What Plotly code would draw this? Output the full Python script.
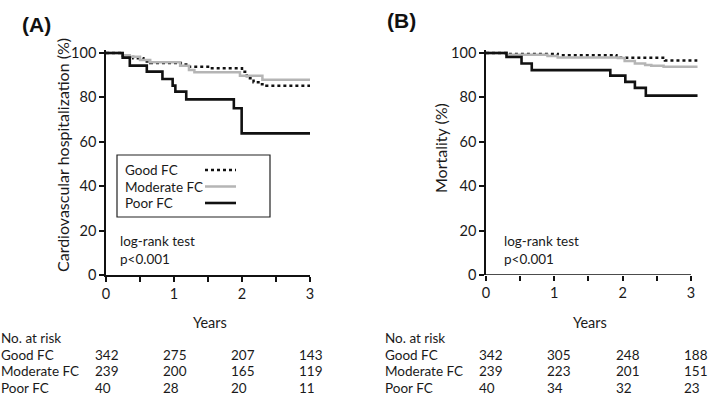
import plotly.graph_objects as go

W, H = 709, 398
FONT = "Lato"

# ---- data ----
GROUPS = ["Good FC", "Moderate FC", "Poor FC"]
RISK_YEARS = [0, 1, 2, 3]

# (A) cardiovascular hospitalization
a_good_x = [0, 0.24, 0.4, 0.55, 0.65, 1.1, 1.2, 1.5, 1.97, 2.0, 2.07, 2.17, 2.27, 2.36, 3.0]
a_good_y = [100, 99, 97.6, 96.2, 95.5, 94.8, 93.8, 93.1, 93.1, 91.6, 88.6, 86.8, 85.9, 85.3, 85.3]
a_mod_x = [0, 0.24, 0.35, 0.5, 0.65, 1.09, 1.22, 1.3, 1.97, 2.3, 3.0]
a_mod_y = [100, 99, 98.3, 96.8, 95.8, 94.3, 92.3, 91.3, 89.8, 88.0, 88.0]
a_poor_x = [0, 0.245, 0.35, 0.6, 0.83, 0.98, 1.02, 1.18, 1.88, 1.995, 3.0]
a_poor_y = [100, 97.9, 94.3, 91.6, 88.3, 85.3, 82.6, 79.1, 75.1, 63.8, 63.8]

# (B) mortality
b_good_x = [0, 0.3, 1.05, 1.91, 2.62, 3.1]
b_good_y = [100, 99.5, 99.0, 97.9, 96.6, 96.6]
b_mod_x = [0, 0.3, 0.9, 1.05, 1.93, 2.03, 2.18, 2.33, 2.42, 2.6, 3.1]
b_mod_y = [100, 99.2, 98.6, 98.0, 97.8, 96.4, 95.3, 94.6, 94.3, 93.8, 93.8]
b_poor_x = [0, 0.3, 0.52, 0.67, 1.82, 2.04, 2.18, 2.34, 3.1]
b_poor_y = [100, 98.2, 95.3, 92.3, 89.8, 87.0, 84.3, 80.8, 80.8]

a_risk = {"Good FC": [342, 275, 207, 143],
          "Moderate FC": [239, 200, 165, 119],
          "Poor FC": [40, 28, 20, 11]}
b_risk = {"Good FC": [342, 305, 248, 188],
          "Moderate FC": [239, 223, 201, 151],
          "Poor FC": [40, 34, 32, 23]}

STYLE = {
    "Good FC": dict(color="#111111", width=2.5, dash="dot"),
    "Moderate FC": dict(color="#b5b5b5", width=2.5),
    "Poor FC": dict(color="#111111", width=2.6),
}


def px(x):
    return x / W


def py(y):
    return 1 - y / H


fig = go.Figure()

panels = [
    ("x", "y", [(a_good_x, a_good_y), (a_mod_x, a_mod_y), (a_poor_x, a_poor_y)]),
    ("x2", "y2", [(b_good_x, b_good_y), (b_mod_x, b_mod_y), (b_poor_x, b_poor_y)]),
]
for xa, ya, series in panels:
    for name, (xs, ys) in zip(GROUPS, series):
        fig.add_trace(go.Scatter(x=xs, y=ys, mode="lines", line_shape="hv",
                                 line=STYLE[name], name=name, showlegend=False,
                                 xaxis=xa, yaxis=ya))

tickfont = dict(family=FONT, size=14.5, color="#1a1a1a")
xticks = dict(tickvals=[0, 0.5, 1, 1.5, 2, 2.5, 3],
              ticktext=["0", "", "1", "", "2", "", "3"],
              ticks="outside", ticklen=5, tickwidth=1.5, tickcolor="#111",
              showgrid=False, zeroline=False, tickfont=tickfont, automargin=False)
yticks = dict(range=[0, 101.5], tickvals=[0, 20, 40, 60, 80, 100],
              ticks="outside", ticklen=5, tickwidth=1.5, tickcolor="#111",
              showline=True, linecolor="#111", linewidth=1.5, automargin=False,
              showgrid=False, zeroline=False, tickfont=tickfont)
ydom = [py(275), py(275 - 101.5 * 2.22)]

fig.update_layout(
    template="none",
    width=W, height=H, margin=dict(l=0, r=0, t=0, b=0, autoexpand=False),
    paper_bgcolor="white", plot_bgcolor="white", showlegend=False,
    xaxis=dict(domain=[px(106), px(310)], range=[0, 3], anchor="y",
               showline=True, linecolor="#111", linewidth=1.5, **xticks),
    yaxis=dict(domain=ydom, anchor="x", **yticks),
    xaxis2=dict(domain=[px(486), px(486 + 3.1 * 68.3)], range=[0, 3.1], anchor="y2",
                showline=False, **xticks),
    yaxis2=dict(domain=ydom, anchor="x2", **yticks),
)

# x axis line of panel B stops at 3
fig.add_shape(type="line", xref="x2", yref="y2", x0=0, x1=3, y0=0, y1=0,
              line=dict(color="#111", width=1.5))

txt = dict(family=FONT, size=13.5, color="#1a1a1a")


def note(x, y, text, **kw):
    args = dict(xref="paper", yref="paper", x=px(x), y=py(y), text=text,
                showarrow=False, font=txt, xanchor="left", yanchor="middle")
    args.update(kw)
    fig.add_annotation(**args)


# panel labels
note(20, 25, "<b>(A)</b>", font=dict(family="Liberation Sans", size=21, color="#111"))
note(385, 21, "<b>(B)</b>", font=dict(family="Liberation Sans", size=21, color="#111"))

# axis titles
note(62, 155, "Cardiovascular hospitalization (%)", textangle=-90, xanchor="center",
     font=dict(family=FONT, size=16, color="#1a1a1a"))
note(440, 148, "Mortality (%)", textangle=-90, xanchor="center",
     font=dict(family=FONT, size=16, color="#1a1a1a"))
note(210, 322, "Years", xanchor="center", font=dict(family=FONT, size=14.5, color="#1a1a1a"))
note(590, 322, "Years", xanchor="center", font=dict(family=FONT, size=14.5, color="#1a1a1a"))

# log-rank text
note(118, 249.5, "log-rank test<br>p&lt;0.001", align="left")
note(502, 249.5, "log-rank test<br>p&lt;0.001", align="left")

# custom legend in panel A (text left, line sample right)
fig.add_shape(type="rect", xref="paper", yref="paper", x0=px(117), x1=px(270),
              y0=py(217), y1=py(155), line=dict(color="#222", width=1.2))
for i, name in enumerate(GROUPS):
    yy = 170 + i * 16.5
    note(123, yy, name)
    fig.add_shape(type="line", xref="paper", yref="paper", x0=px(205), x1=px(236),
                  y0=py(yy), y1=py(yy), line=STYLE[name])

# number at risk tables
for xa, x0, shift, risk in [("x", -1, -13, a_risk), ("x2", 383, -9, b_risk)]:
    note(x0, 338, "No. at risk")
    for i, name in enumerate(GROUPS):
        yy = 354.5 + i * 16.8
        note(x0, yy, name)
        for yr, n in zip(RISK_YEARS, risk[name]):
            fig.add_annotation(xref=xa, yref="paper", x=yr, y=py(yy), text=str(n),
                               showarrow=False, font=txt, xanchor="left",
                               yanchor="middle", xshift=shift)

# the page body has a default 8px margin; drop it so the figure sits at the corner
fig.write_html("out.html", config={"displayModeBar": False},
               post_script="document.body.style.margin='0';document.body.style.overflow='hidden';")
